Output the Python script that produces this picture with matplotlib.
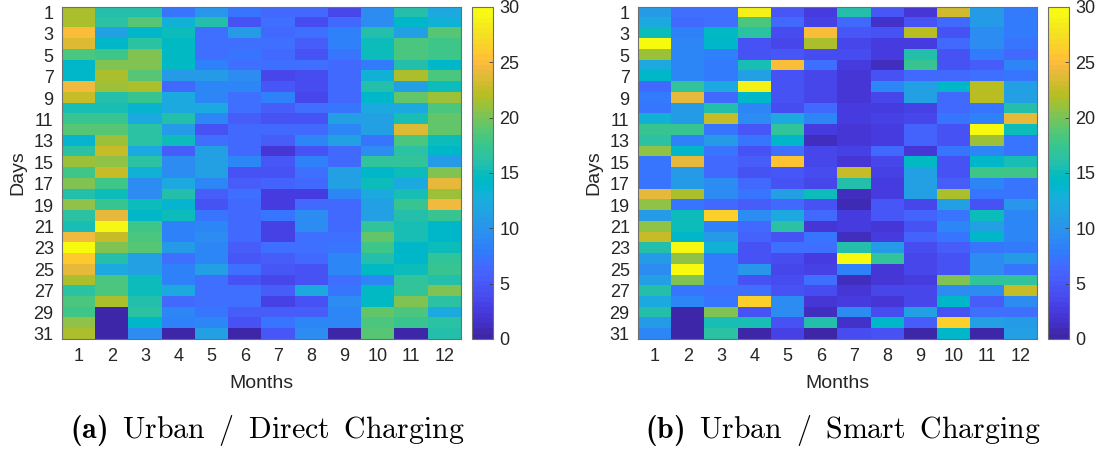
import matplotlib
matplotlib.use("Agg")
import matplotlib.pyplot as plt
import numpy as np
from matplotlib.colors import ListedColormap

# MATLAB parula colormap (64 entries)
parula = ListedColormap([
    [0.2422, 0.1504, 0.6603], [0.2504, 0.1650, 0.7076], [0.2578, 0.1818, 0.7511],
    [0.2647, 0.1978, 0.7952], [0.2706, 0.2147, 0.8364], [0.2751, 0.2342, 0.8710],
    [0.2783, 0.2559, 0.8991], [0.2803, 0.2782, 0.9221], [0.2813, 0.3006, 0.9414],
    [0.2810, 0.3228, 0.9579], [0.2795, 0.3447, 0.9717], [0.2760, 0.3667, 0.9829],
    [0.2699, 0.3892, 0.9906], [0.2602, 0.4123, 0.9952], [0.2440, 0.4358, 0.9988],
    [0.2206, 0.4603, 0.9973], [0.1963, 0.4847, 0.9892], [0.1834, 0.5074, 0.9798],
    [0.1786, 0.5289, 0.9682], [0.1764, 0.5499, 0.9520], [0.1687, 0.5703, 0.9359],
    [0.1540, 0.5902, 0.9218], [0.1460, 0.6091, 0.9079], [0.1380, 0.6276, 0.8973],
    [0.1248, 0.6459, 0.8883], [0.1113, 0.6635, 0.8763], [0.0952, 0.6798, 0.8598],
    [0.0689, 0.6948, 0.8394], [0.0297, 0.7082, 0.8163], [0.0036, 0.7197, 0.7917],
    [0.0067, 0.7290, 0.7635], [0.0433, 0.7377, 0.7350], [0.0964, 0.7459, 0.7047],
    [0.1408, 0.7529, 0.6728], [0.1717, 0.7597, 0.6402], [0.1938, 0.7668, 0.6060],
    [0.2161, 0.7725, 0.5707], [0.2470, 0.7771, 0.5349], [0.2906, 0.7791, 0.4977],
    [0.3406, 0.7786, 0.4581], [0.3909, 0.7752, 0.4169], [0.4456, 0.7700, 0.3725],
    [0.5044, 0.7657, 0.3249], [0.5616, 0.7608, 0.2758], [0.6174, 0.7550, 0.2252],
    [0.6720, 0.7486, 0.1706], [0.7242, 0.7433, 0.1357], [0.7738, 0.7386, 0.1589],
    [0.8203, 0.7346, 0.1803], [0.8646, 0.7316, 0.2064], [0.9085, 0.7274, 0.2275],
    [0.9480, 0.7278, 0.2402], [0.9821, 0.7435, 0.2285], [0.9964, 0.7652, 0.2031],
    [0.9955, 0.7907, 0.1855], [0.9850, 0.8176, 0.1703], [0.9730, 0.8439, 0.1543],
    [0.9616, 0.8707, 0.1363], [0.9589, 0.8968, 0.1184], [0.9601, 0.9218, 0.1043],
    [0.9641, 0.9468, 0.0925], [0.9693, 0.9717, 0.0792], [0.9763, 0.9831, 0.0538],
], name="parula")

months = list(range(1, 13))
days = list(range(1, 32))
day_ticks = list(range(1, 32, 2))

# daily charged energy per day (rows) and month (columns)
direct_charging = [
    [21.5, 16, 16, 7.5, 10, 7.5, 6.5, 6.5, 3.5, 9.5, 16, 12],
    [21.5, 16.5, 19, 13, 16, 4.5, 7, 4, 6.5, 9.5, 14, 13],
    [25, 11, 14, 15, 7, 10.5, 6.5, 7, 8.5, 16, 11, 19],
    [23.5, 14, 16.5, 14.5, 7, 6.8, 6.8, 5.5, 8.5, 15, 18.5, 18],
    [18.5, 18, 20, 14.5, 7, 7.2, 6.5, 4.5, 7.5, 15, 18.5, 18],
    [14, 20, 20, 14.5, 8.5, 7, 7, 7, 6.5, 8, 16, 14],
    [14, 21.5, 19, 10.5, 10.5, 9.5, 3.8, 4, 6.5, 13, 21.5, 18.5],
    [24.5, 21, 21.5, 6.5, 9, 9, 4.8, 4, 6.5, 16, 11, 15],
    [22.5, 16, 17.5, 12, 9, 7, 8.5, 3.8, 6.5, 14, 19.5, 21],
    [15.5, 15.5, 13.5, 12, 12, 7, 5.5, 7, 7.5, 12, 12, 18.5],
    [17.5, 17.5, 12, 16, 9, 5.5, 4.5, 4.5, 11, 11, 15.5, 19.5],
    [19, 19, 16.5, 10.5, 4.5, 6.5, 6.5, 6.5, 9, 11, 23.5, 19.5],
    [13.5, 21, 16.5, 15, 7, 6.5, 5.5, 9, 11, 7.5, 18.5, 15],
    [16.5, 22.5, 12, 5.5, 11, 6.5, 2, 4.5, 6.5, 9.5, 16.5, 14],
    [21, 20.5, 16.5, 9.5, 11, 9, 5, 8.5, 6.5, 17, 17, 10.5],
    [18, 22.5, 13, 9.5, 11, 4.5, 4.5, 7, 11, 14, 15, 20],
    [20, 18, 9.5, 12, 9, 5.5, 6, 6.5, 11, 15, 12, 24],
    [16, 15, 9.5, 16, 5.5, 7, 2.5, 2.5, 9, 12, 15.5, 21],
    [20.5, 17.5, 15, 13.5, 4.5, 6.5, 2.5, 6.5, 6.5, 11, 17.5, 24.5],
    [16.5, 24, 14, 15, 7.5, 6.5, 7.5, 9.5, 6.5, 11, 16, 17.5],
    [15.5, 29.5, 18, 8.5, 9, 6.5, 3, 9.5, 6.5, 17, 15.5, 14],
    [24.5, 22.5, 18.5, 8.5, 9.5, 6.5, 3, 7, 7, 19.5, 15.5, 14],
    [30, 20, 19, 10.5, 9, 5.5, 7, 7, 7.5, 18, 14, 15],
    [26, 16, 11, 7, 9, 5, 5.5, 6.5, 9, 16, 14, 17],
    [24, 12, 11, 8.5, 11, 7, 5, 4.5, 9, 14.5, 15, 17.5],
    [21.5, 18.5, 15, 8.5, 7, 4.5, 3.8, 4.5, 7, 9, 17, 16],
    [16.5, 18.5, 15, 12, 7, 7, 5.5, 12, 7.5, 14.5, 17, 20],
    [18.5, 21.5, 16, 6.5, 7, 7, 3, 4.5, 9.5, 14.5, 20, 16.5],
    [18, 0, 16.5, 9, 7.5, 5.5, 5.5, 5.5, 9, 19.5, 18.5, 12],
    [20.5, 0, 14, 8.5, 9, 4.5, 7.5, 9, 9, 18.5, 17.5, 16.5],
    [21.5, 0, 9.5, 0, 11, 0, 5, 9.5, 0, 19, 0, 16],
]

smart_charging = [
    [10.5, 7, 7, 29, 5, 2.5, 16, 5, 2, 23, 10.5, 8],
    [12, 6.5, 7, 18.5, 6.5, 3, 6.5, 1.5, 4.5, 6.5, 10.5, 8],
    [15, 8.5, 14.5, 16.5, 4, 25, 5, 4.5, 22, 4.5, 9.5, 8],
    [30, 9, 14, 4.5, 3.5, 21.5, 3.5, 2.5, 2.5, 6.5, 9.5, 7.5],
    [21, 9, 8.5, 4.5, 5, 4, 4, 2.5, 16, 4.5, 8, 6.5],
    [12, 9, 8, 15.5, 25, 7, 2.5, 1, 17.5, 4.5, 5.5, 9],
    [14, 9, 8, 11, 4.5, 3.5, 2, 4.5, 6.5, 6.5, 7, 7.5],
    [6.5, 17, 12, 29, 4.5, 3.5, 2, 9, 11, 14, 22, 11],
    [8, 24, 6.5, 14, 4.5, 3.5, 2, 3.5, 11, 6.5, 22, 11],
    [7.5, 10.5, 16, 9, 4, 6.5, 2.5, 2.5, 3, 6.5, 7.5, 16],
    [13, 10.5, 22.5, 9.5, 12, 9, 2.5, 3, 3.5, 7.5, 8.5, 24],
    [17.5, 17.5, 7.5, 5, 17, 2.5, 2, 2.5, 6, 4.5, 30, 15],
    [16.5, 8.5, 10.5, 7.5, 14, 1, 2, 2.5, 6, 4.5, 21, 7.5],
    [20.5, 14, 7.5, 4.5, 7, 3.5, 3, 6.5, 2, 7.5, 9, 7.5],
    [7.5, 24, 6.5, 5.5, 25.5, 3.5, 2, 3.5, 14.5, 4.5, 14, 15.5],
    [7.5, 10.5, 6.5, 4.5, 5, 4, 22.5, 3, 11, 4.5, 18, 18],
    [7.5, 10.5, 9.5, 6.5, 4.5, 3.5, 16, 2.5, 11, 5.5, 9, 7.5],
    [24, 21.5, 9.5, 7.5, 11, 15, 1, 2.5, 11, 21.5, 7.5, 7.5],
    [20.5, 7.5, 6.5, 5.5, 6.5, 4.5, 0.8, 5, 3.5, 11, 4.5, 10],
    [10.5, 15, 26.5, 9.5, 12, 6.5, 2.5, 5, 6, 7.5, 15, 9],
    [20.5, 15, 8.5, 6.5, 16.5, 2, 2.5, 2, 4.5, 9, 11, 9],
    [22.5, 14, 10.5, 6, 4.5, 7.5, 1, 2.5, 6, 7.5, 14, 9],
    [16, 29.5, 13, 4.5, 7, 7, 16, 10.5, 4, 5.5, 7.5, 8],
    [10.5, 20.5, 8, 4.5, 4, 2.5, 30, 17, 3.5, 4.5, 9.5, 10.5],
    [9.5, 30, 8, 10, 3.5, 3, 8.5, 2, 3.5, 4.5, 9.5, 7.5],
    [11, 20, 8, 4.5, 4, 7, 1, 2, 2.5, 20, 17, 17],
    [16, 7.5, 7, 7, 4.5, 4, 2, 3.5, 3.5, 9.5, 9.5, 22.5],
    [12, 9, 7.5, 26.5, 9.5, 2, 2.5, 2, 3.5, 14, 5.5, 9.5],
    [16, 0, 20, 4.5, 9.5, 1, 9.5, 4, 11, 4.5, 7, 7],
    [10.5, 0, 15.5, 15.5, 4.5, 16, 1.5, 14, 5.5, 26.5, 11, 10.5],
    [9, 0, 16.5, 0, 3, 0, 4, 4.5, 0, 14, 0, 11],
]

captions = [r"$\mathbf{(a)}\enspace\mathrm{Urban\enspace/\enspace Direct\enspace Charging}$",
            r"$\mathbf{(b)}\enspace\mathrm{Urban\enspace/\enspace Smart\enspace Charging}$"]

plt.rcParams["font.family"] = ["Liberation Sans", "DejaVu Sans"]
# Computer Modern for the sub-figure captions
plt.rcParams["mathtext.fontset"] = "custom"
plt.rcParams["mathtext.rm"] = "cmr10"
plt.rcParams["mathtext.bf"] = "cmb10"
txt = "#262626"

fig = plt.figure(figsize=(10.99, 4.5), dpi=100)

panels = [
    (direct_charging, [0.0564, 0.2467, 0.363, 0.7378], [0.4295, 0.2467, 0.0191, 0.7378], 0.2429),
    (smart_charging, [0.5805, 0.2467, 0.363, 0.7378], [0.9536, 0.2467, 0.0191, 0.7378], 0.767),
]

for (values, ax_pos, cb_pos, cap_x), caption in zip(panels, captions):
    ax = fig.add_axes(ax_pos)
    im = ax.imshow(np.array(values), cmap=parula, vmin=0, vmax=30, aspect="auto",
                   interpolation="nearest",
                   extent=[months[0] - 0.5, months[-1] + 0.5, days[-1] + 0.5, days[0] - 0.5])
    ax.set_xticks(months)
    ax.set_yticks(day_ticks)
    ax.tick_params(length=0, labelsize=13, labelcolor=txt)
    ax.tick_params(axis="x", pad=6.5)
    ax.tick_params(axis="y", pad=6)
    ax.set_xlabel("Months", fontsize=14, color=txt, labelpad=7)
    ax.set_ylabel("Days", fontsize=14, color=txt, labelpad=5)
    for s in ax.spines.values():
        s.set_color("#6e6e6e")
        s.set_linewidth(0.8)

    cax = fig.add_axes(cb_pos)
    cb = fig.colorbar(im, cax=cax, ticks=range(0, 31, 5))
    cb.outline.set_edgecolor("#6e6e6e")
    cb.outline.set_linewidth(0.8)
    cax.tick_params(direction="in", length=3, width=0.6, color="#404040",
                    labelsize=13, labelcolor=txt, pad=4.5)

    fig.text(cap_x, 0.0267, caption, ha="center", va="baseline", fontsize=21.5)

fig.savefig("out.png", dpi=100)
